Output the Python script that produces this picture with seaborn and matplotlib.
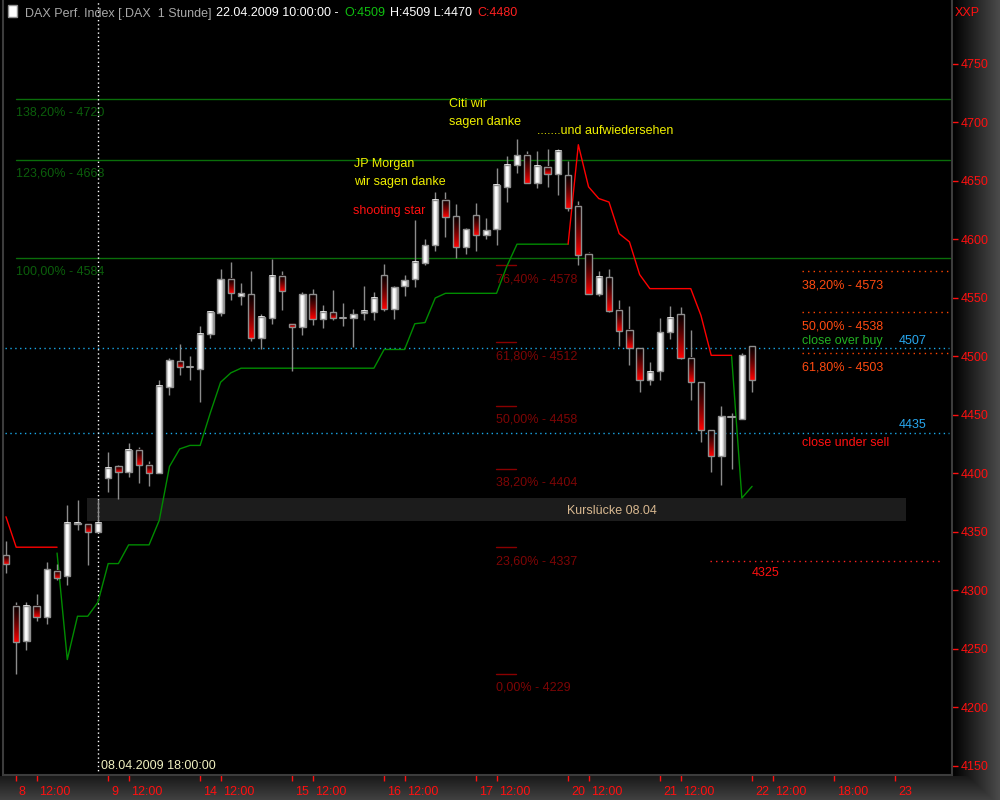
import numpy as np
import matplotlib
matplotlib.use("Agg")
import matplotlib.pyplot as plt
import seaborn as sns
from matplotlib.patches import Rectangle
from matplotlib.transforms import ScaledTranslation

# ---------------- data (hourly DAX bars, 07.04.2009 18:00 .. 22.04.2009 10:00) ----------------
opens = [4330, 4287, 4257, 4287, 4277, 4317, 4312, 4357, 4357, 4350,
         4396, 4406, 4401, 4420, 4407, 4400, 4474, 4496, 4491,
         4489, 4519, 4537, 4566, 4552, 4553, 4516, 4533, 4569,
         4528, 4525, 4553, 4532, 4538, 4533, 4533, 4537, 4538,
         4570, 4541, 4560, 4566, 4580, 4595, 4634, 4620, 4594,
         4621, 4604, 4609, 4645, 4664, 4672, 4648, 4662, 4656,
         4655, 4629, 4588, 4553, 4568, 4540, 4523, 4507, 4480,
         4488, 4521, 4536, 4499, 4478, 4437, 4415, 4448, 4447,
         4509]
highs = [4342, 4290, 4290, 4297, 4324, 4323, 4373, 4377, 4357, 4377,
         4418, 4407, 4426, 4423, 4411, 4480, 4499, 4511, 4500,
         4526, 4539, 4575, 4581, 4563, 4573, 4536, 4583, 4573,
         4528, 4555, 4558, 4544, 4557, 4546, 4541, 4560, 4555,
         4579, 4560, 4570, 4617, 4600, 4641, 4641, 4630, 4610,
         4631, 4618, 4661, 4671, 4686, 4676, 4676, 4677, 4677,
         4667, 4633, 4589, 4573, 4575, 4548, 4543, 4507, 4495,
         4533, 4543, 4542, 4523, 4478, 4437, 4458, 4452, 4503,
         4509]
lows = [4315, 4229, 4249, 4274, 4271, 4309, 4305, 4352, 4322, 4350,
        4384, 4378, 4397, 4392, 4389, 4400, 4467, 4484, 4480,
        4461, 4516, 4535, 4548, 4544, 4513, 4506, 4528, 4540,
        4488, 4518, 4527, 4524, 4531, 4526, 4508, 4531, 4531,
        4539, 4532, 4552, 4559, 4578, 4590, 4602, 4584, 4588,
        4590, 4600, 4595, 4632, 4657, 4648, 4644, 4645, 4638,
        4624, 4578, 4553, 4552, 4538, 4509, 4493, 4470, 4476,
        4480, 4515, 4498, 4463, 4427, 4401, 4390, 4404, 4447,
        4470]
closes = [4323, 4256, 4287, 4277, 4318, 4311, 4358, 4358, 4350, 4358,
          4405, 4401, 4420, 4407, 4400, 4475, 4497, 4491, 4491,
          4519, 4538, 4566, 4554, 4554, 4516, 4534, 4569, 4556,
          4525, 4553, 4532, 4538, 4533, 4533, 4536, 4539, 4550,
          4541, 4559, 4565, 4581, 4595, 4634, 4619, 4594, 4609,
          4604, 4608, 4647, 4664, 4672, 4648, 4663, 4656, 4676,
          4627, 4587, 4553, 4568, 4539, 4522, 4507, 4480, 4487,
          4521, 4533, 4499, 4478, 4437, 4415, 4449, 4448, 4501,
          4480]

# trailing stop line (bearish red / bullish green)
red_stop1_start = 0
red_stop1 = [4363, 4337, 4337, 4337, 4337, 4337]
green_stop1_start = 5
green_stop1 = [4332, 4241, 4278, 4278, 4290, 4323, 4323, 4339, 4339, 4339,
               4360, 4406, 4421, 4424, 4424, 4452, 4478, 4486, 4490, 4490,
               4490, 4490, 4490, 4490, 4490, 4490, 4490, 4490, 4490, 4490,
               4490, 4490, 4506, 4506, 4506, 4528, 4529, 4550, 4554, 4554,
               4554, 4554, 4554, 4554, 4577, 4596, 4596, 4596, 4596, 4596,
               4596]
red_stop2_start = 55
red_stop2 = [4596, 4681, 4645, 4635, 4632, 4605, 4598, 4570, 4558, 4558,
             4558, 4558, 4558, 4535, 4501, 4501, 4501]
green_stop2_start = 71
green_stop2 = [4500, 4379, 4389]

# Fibonacci extension levels (green)
ext_levels = [4720, 4668, 4584]
ext_labels = ["138,20% - 4720", "123,60% - 4668", "100,00% - 4584"]
# Fibonacci retracement levels (dark red)
retr_levels = [4578, 4512, 4458, 4404, 4337, 4229]
retr_labels = ["76,40% - 4578", "61,80% - 4512", "50,00% - 4458",
               "38,20% - 4404", "23,60% - 4337", "0,00% - 4229"]
# target retracement levels (orange)
tgt_levels = [4573, 4538, 4503]
tgt_labels = ["38,20% - 4573", "50,00% - 4538", "61,80% - 4503"]
# signal levels (cyan)
buy_level = 4507
sell_level = 4435
support_level = 4325
gap_top, gap_bottom = 4379, 4359

xtick_pos = [1, 3, 10, 12, 19, 21, 28, 30, 37, 39, 46, 48, 55, 57, 64, 66, 73, 75, 81, 87]
xtick_labels = ["8", "12:00", "9", "12:00", "14", "12:00", "15", "12:00", "16", "12:00",
                "17", "12:00", "20", "12:00", "21", "12:00", "22", "12:00", "18:00", "23"]
ytick_vals = list(range(4150, 4751, 50))

# ---------------- style ----------------
sns.set_theme(style="dark", rc={"axes.facecolor": "black", "figure.facecolor": "black",
                                "axes.grid": False})
plt.rcParams["font.family"] = ["Liberation Sans", "DejaVu Sans"]
FS = 9
VA = "center_baseline"

W, H = 1000, 800
fig = plt.figure(figsize=(10, 8), dpi=100, facecolor="black")

# background panels (gradient axis areas)
bg = fig.add_axes([0, 0, 1, 1])
bg.axis("off")
img = np.zeros((H, W, 3))
xs = np.arange(W)
ys = np.arange(H)
right = np.clip((xs - 952) / 48.0, 0, 1) * 0.30
bottom = np.where(ys >= 776, 0.10 + 0.16 * np.clip((ys - 776) / 24.0, 0, 1), 0)
val = np.maximum(right[None, :], bottom[:, None])
img[:] = val[:, :, None]
bg.imshow(img, extent=(0, 1, 0, 1), aspect="auto", interpolation="bilinear")
bg.set_xlim(0, 1)
bg.set_ylim(0, 1)

ax = fig.add_axes([0.003, 0.03125, 0.949, 0.96875])
ax.set_facecolor("black")

n = len(opens)
idx = np.arange(n)

# Kurslücke gap box
ax.add_patch(Rectangle((7.93, gap_bottom), 88.06 - 7.93, gap_top - gap_bottom,
                       facecolor="#1c1c1c", edgecolor="none", zorder=1))
ax.text(59.3, (gap_top + gap_bottom) / 2, "Kurslücke 08.04", color="#d8b890",
        fontsize=FS, ha="center", va=VA, zorder=2)

# extension levels
for lv, lb in zip(ext_levels, ext_labels):
    ax.plot([0.98, 92.4], [lv, lv], color="#0a6e0a", lw=1, zorder=2)
    ax.text(0.98, lv - 10.3, lb, color="#0b5e0b", fontsize=FS, ha="left", va=VA, zorder=2)

# retracement levels
for lv, lb in zip(retr_levels, retr_labels):
    ax.plot([47.9, 49.9], [lv, lv], color="#8a0000", lw=1, zorder=2)
    ax.text(47.9, lv - 10.7, lb, color="#7d0505", fontsize=FS, ha="left", va=VA, zorder=2)

# target levels
for lv, lb in zip(tgt_levels, tgt_labels):
    ax.plot([77.9, 92.2], [lv, lv], color="#ff4500", lw=1, ls=(0, (1, 3)), zorder=2)
    ax.text(77.9, lv - 11, lb, color="#ff4a10", fontsize=FS, ha="left", va=VA, zorder=2)

# signal levels
for lv in (buy_level, sell_level):
    ax.plot([-0.1, 92.3], [lv, lv], color="#1aa8e8", lw=1, ls=(0, (1, 2.5)), zorder=2)
ax.text(87.3, buy_level + 7.5, str(buy_level), color="#28a8f0", fontsize=FS, ha="left", va=VA)
ax.text(87.3, sell_level + 7.5, str(sell_level), color="#28a8f0", fontsize=FS, ha="left", va=VA)
ax.text(77.9, buy_level + 7.5, "close over buy", color="#22b022", fontsize=FS, ha="left", va=VA)
ax.text(77.9, sell_level - 7.5, "close under sell", color="#ff1010", fontsize=FS, ha="left", va=VA)

# support line
ax.plot([68.9, 91.7], [support_level, support_level], color="#ff2020", lw=1, ls=(0, (1, 3)), zorder=2)
ax.text(73.0, support_level - 9, str(support_level), color="#ff1010", fontsize=FS, ha="left", va=VA)

# vertical marker
ax.axvline(9, color="white", lw=1, ls=(0, (1, 2)), zorder=2)
ax.text(9.25, 4151.7, "08.04.2009 18:00:00", color="#f0f0c0", fontsize=FS, ha="left", va=VA)

# annotations
ax.text(43.3, 4717.5, "Citi wir", color="#f0f000", fontsize=FS, ha="left", va=VA)
ax.text(43.3, 4701.3, "sagen danke", color="#f0f000", fontsize=FS, ha="left", va=VA)
ax.text(52.0, 4694.4, ".......und aufwiedersehen", color="#f0f000", fontsize=FS, ha="left", va=VA)
ax.text(34.1, 4666.2, "JP Morgan", color="#f0f000", fontsize=FS, ha="left", va=VA)
ax.text(34.1, 4650.0, "wir sagen danke", color="#f0f000", fontsize=FS, ha="left", va=VA)
ax.text(33.95, 4626.0, "shooting star", color="#ff1010", fontsize=FS, ha="left", va=VA)

# trailing stop lines via seaborn
sns.lineplot(x=np.arange(red_stop1_start, red_stop1_start + len(red_stop1)), y=red_stop1,
             color="#ff0000", lw=1, ax=ax, zorder=3)
sns.lineplot(x=np.arange(green_stop1_start, green_stop1_start + len(green_stop1)), y=green_stop1,
             color="#008c00", lw=1, ax=ax, zorder=3)
sns.lineplot(x=np.arange(red_stop2_start, red_stop2_start + len(red_stop2)), y=red_stop2,
             color="#ff0000", lw=1, ax=ax, zorder=3)
sns.lineplot(x=np.arange(green_stop2_start, green_stop2_start + len(green_stop2)), y=green_stop2,
             color="#008c00", lw=1, ax=ax, zorder=3)

# candlesticks
bw = 0.31
ax.vlines(idx, lows, highs, color="#8c8c8c", lw=1, zorder=4)
wg = np.array([0.62, 0.82, 0.96, 1.0, 0.97, 0.88, 0.74, 0.6])
white_img = np.repeat(wg[None, :, None], 3, axis=2)
t = np.linspace(0.0, 1.0, 32)
red_img = np.zeros((32, 1, 3))
red_img[:, 0, 0] = 0.04 + 0.96 * t ** 1.3
for i, (o, c) in enumerate(zip(opens, closes)):
    lo, hi = min(o, c), max(o, c)
    if o == c:
        ax.plot([i - bw, i + bw], [o, o], color="#9a9a9a", lw=1.5, zorder=5)
        continue
    arr = white_img if c > o else red_img
    ax.imshow(arr, extent=(i - bw, i + bw, lo, hi), origin="upper", aspect="auto",
              interpolation="bilinear", zorder=5)
    ax.add_patch(Rectangle((i - bw, lo), 2 * bw, hi - lo, fill=False,
                           edgecolor="#8e8e8e", lw=1, zorder=6))

ax.set_xlim(-0.29, 92.56)
ax.set_ylim(4142.3, 4804.7)
ax.set_aspect("auto")
ax.set_xlabel("")
ax.set_ylabel("")

# axes / ticks
ax.yaxis.tick_right()
ax.set_yticks(ytick_vals)
ax.set_yticklabels([str(v) for v in ytick_vals])
ax.tick_params(axis="y", colors="#ff1010", direction="out", length=4, width=1, pad=2, labelsize=FS,
               right=True, left=False)
ax.set_xticks(xtick_pos)
ax.set_xticklabels(xtick_labels)
ax.tick_params(axis="x", colors="#ff1010", direction="out", length=4, width=1, pad=4, labelsize=FS,
               bottom=True)
off = ScaledTranslation(2 / 72, 0, fig.dpi_scale_trans)
for lab in ax.get_xticklabels():
    lab.set_horizontalalignment("left")
    lab.set_transform(lab.get_transform() + off)
for side in ("left", "bottom", "right"):
    ax.spines[side].set_color("#3c3c3c")
    ax.spines[side].set_linewidth(1.5)
    ax.spines[side].set_visible(True)
ax.spines["top"].set_visible(False)

# header
fig.patches.append(Rectangle((8 / W, 1 - 17 / H), 9 / W, 12 / H, transform=fig.transFigure,
                             facecolor="white", edgecolor="#909090", lw=1))
renderer = fig.canvas.get_renderer()
parts = [("DAX Perf. Index [.DAX  1 Stunde]", "#a8a8a8"),
         ("22.04.2009 10:00:00 -", "white"),
         ("O:4509", "#10c010"),
         ("H:4509 L:4470", "white"),
         ("C:4480", "#ff2020")]
xp = 25
for s, col in parts:
    tx = fig.text(xp / W, 1 - 12 / H, s, color=col, fontsize=FS, ha="left", va=VA)
    bb = tx.get_window_extent(renderer)
    xp = bb.x1 + 5
fig.text(955 / W, 1 - 12 / H, "XXP", color="#ff1010", fontsize=FS, ha="left", va=VA)

fig.savefig("out.png", dpi=100, facecolor="black")
